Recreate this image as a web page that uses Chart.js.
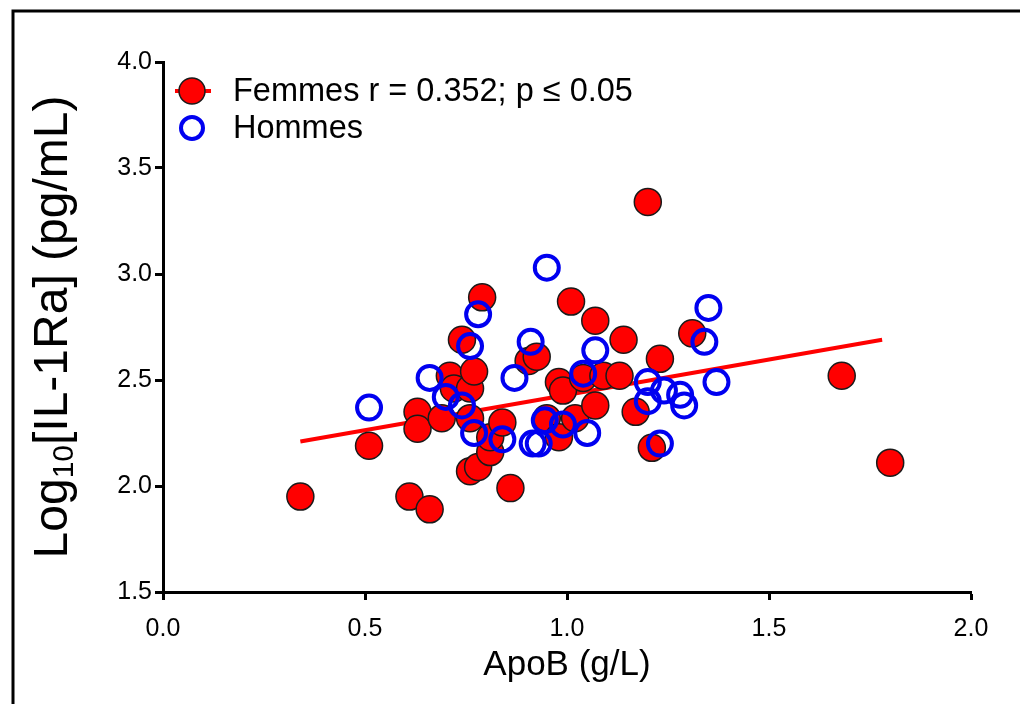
<!DOCTYPE html>
<html>
<head>
<meta charset="utf-8">
<script src="https://cdn.jsdelivr.net/npm/chart.js@4.4.1/dist/chart.umd.min.js"></script>
<style>
  html, body { margin: 0; padding: 0; background: #fff; }
  #wrap { width: 1020px; height: 704px; }
</style>
</head>
<body>
<div id="wrap"><canvas id="scatter"></canvas></div>
<script>
// Données
const femmesX = [0.34, 0.51, 0.61, 0.66, 0.63, 0.63, 0.69, 0.71, 0.72, 0.74,
                 0.76, 0.77, 0.76, 0.79, 0.76, 0.78, 0.81, 0.81, 0.84, 0.86,
                 0.905, 0.925, 0.95, 0.98, 0.98, 0.99, 1.01, 1.02, 1.04, 1.07,
                 1.07, 1.09, 1.13, 1.14, 1.17, 1.20, 1.21, 1.23, 1.31, 1.68,
                 1.80];
const femmesY = [1.95, 2.19, 1.95, 1.89, 2.35, 2.27, 2.32, 2.52, 2.46, 2.69,
                 2.46, 2.54, 2.32, 2.89, 2.07, 2.09, 2.16, 2.23, 2.30, 1.99,
                 2.59, 2.61, 2.32, 2.23, 2.49, 2.45, 2.87, 2.32, 2.51, 2.78,
                 2.38, 2.52, 2.52, 2.69, 2.35, 3.34, 2.18, 2.60, 2.72, 2.52,
                 2.11];
const hommesX = [0.51, 0.66, 0.70, 0.74, 0.76, 0.78, 0.77, 0.84, 0.87, 0.91,
                 0.915, 0.93, 0.95, 0.945, 0.99, 1.04, 1.05, 1.07, 1.20, 1.20,
                 1.24, 1.28, 1.29, 1.23, 1.34, 1.35, 1.37];
const hommesY = [2.37, 2.51, 2.42, 2.38, 2.66, 2.81, 2.25, 2.22, 2.51, 2.68,
                 2.20, 2.20, 3.03, 2.31, 2.29, 2.53, 2.25, 2.64, 2.49, 2.40,
                 2.45, 2.43, 2.38, 2.20, 2.68, 2.84, 2.49];
// droite de régression (femmes)
const fitX = [0.34, 1.78];
const fitY = [2.21, 2.69];

const xTicks = [0.0, 0.5, 1.0, 1.5, 2.0];
const yTicks = [1.5, 2.0, 2.5, 3.0, 3.5, 4.0];
const legendLabels = ['Femmes r = 0.352; p \u2264 0.05', 'Hommes'];

const FONT = '"Liberation Sans", Arial, sans-serif';
const RED = '#ff0000';
const BLUE = '#0000f0';

const toPoints = (xs, ys) => xs.map((x, i) => ({ x: x, y: ys[i] }));

// cadre, légende et titres des axes
const decorPlugin = {
    id: 'decor',
    beforeDraw(chart) {
        const ctx = chart.ctx;
        ctx.save();
        ctx.fillStyle = '#fff';
        ctx.fillRect(0, 0, chart.width, chart.height);
        ctx.strokeStyle = '#000';
        ctx.lineWidth = 3;
        ctx.beginPath();
        ctx.moveTo(13, chart.height);
        ctx.lineTo(13, 11);
        ctx.lineTo(chart.width, 11);
        ctx.stroke();
        ctx.restore();
    },
    afterDraw(chart) {
        const ctx = chart.ctx;
        const area = chart.chartArea;
        ctx.save();

        // légende
        const mx = area.left + 29;
        const y1 = area.top + 29;
        const y2 = area.top + 66;
        ctx.strokeStyle = RED;
        ctx.lineWidth = 4;
        ctx.beginPath();
        ctx.moveTo(mx - 17, y1);
        ctx.lineTo(mx + 19, y1);
        ctx.stroke();
        ctx.beginPath();
        ctx.arc(mx, y1, 13, 0, Math.PI * 2);
        ctx.fillStyle = RED;
        ctx.fill();
        ctx.lineWidth = 1.5;
        ctx.strokeStyle = '#1a1a1a';
        ctx.stroke();
        ctx.beginPath();
        ctx.arc(mx, y2, 11, 0, Math.PI * 2);
        ctx.lineWidth = 4;
        ctx.strokeStyle = BLUE;
        ctx.stroke();

        ctx.fillStyle = '#000';
        ctx.font = '32.5px ' + FONT;
        ctx.textAlign = 'left';
        ctx.textBaseline = 'middle';
        ctx.fillText(legendLabels[0], mx + 41, y1 + 1);
        ctx.fillText(legendLabels[1], mx + 41, y2 + 1);

        // titre axe x
        ctx.textAlign = 'center';
        ctx.font = '35px ' + FONT;
        ctx.fillText('ApoB (g/L)', (area.left + area.right) / 2, 665);

        // titre axe y avec indice
        const big = '48px ' + FONT;
        const small = '30px ' + FONT;
        const parts = [['Log', big, 0], ['10', small, 11], ['[IL-1Ra] (pg/mL)', big, 0]];
        let total = 0;
        parts.forEach(p => { ctx.font = p[1]; total += ctx.measureText(p[0]).width; });
        ctx.translate(54, (area.top + area.bottom) / 2);
        ctx.rotate(-Math.PI / 2);
        ctx.textAlign = 'left';
        let pos = -total / 2;
        parts.forEach(p => {
            ctx.font = p[1];
            ctx.fillText(p[0], pos, p[2]);
            pos += ctx.measureText(p[0]).width;
        });
        ctx.restore();
    }
};

const axisGrid = {
    display: true,
    drawOnChartArea: false,
    drawTicks: true,
    tickLength: 8,
    tickWidth: 3,
    tickColor: '#000'
};

new Chart(document.getElementById('scatter'), {
    type: 'scatter',
    data: {
        datasets: [{
            label: legendLabels[1],
            data: toPoints(hommesX, hommesY),
            pointRadius: 12,
            pointHoverRadius: 12,
            borderWidth: 4,
            borderColor: BLUE,
            backgroundColor: 'rgba(0,0,0,0)',
            order: 0
        }, {
            label: legendLabels[0],
            data: toPoints(femmesX, femmesY),
            pointRadius: 13.5,
            pointHoverRadius: 13.5,
            borderWidth: 1.5,
            borderColor: '#1a1a1a',
            backgroundColor: RED,
            order: 1
        }, {
            type: 'line',
            label: 'fit',
            data: toPoints(fitX, fitY),
            borderColor: RED,
            borderWidth: 4,
            pointRadius: 0,
            fill: false,
            order: 2
        }]
    },
    options: {
        responsive: true,
        maintainAspectRatio: false,
        animation: false,
        events: [],
        layout: { padding: { top: 62, right: 49, left: 0, bottom: 0 } },
        plugins: {
            legend: { display: false },
            tooltip: { enabled: false }
        },
        scales: {
            x: {
                type: 'linear',
                min: 0,
                max: 2,
                grid: axisGrid,
                border: { display: true, color: '#000', width: 3 },
                ticks: {
                    color: '#000',
                    font: { family: FONT, size: 25 },
                    padding: 14,
                    maxRotation: 0,
                    autoSkip: false,
                    callback: v => v.toFixed(1)
                },
                afterBuildTicks: s => { s.ticks = xTicks.map(v => ({ value: v })); },
                afterFit: s => { s.height = 112; }
            },
            y: {
                type: 'linear',
                min: 1.5,
                max: 4,
                grid: axisGrid,
                border: { display: true, color: '#000', width: 3 },
                ticks: {
                    color: '#000',
                    font: { family: FONT, size: 25 },
                    padding: 3,
                    autoSkip: false,
                    callback: v => v.toFixed(1)
                },
                afterBuildTicks: s => { s.ticks = yTicks.map(v => ({ value: v })); },
                afterFit: s => { s.width = 163; }
            }
        }
    },
    plugins: [decorPlugin]
});
</script>
</body>
</html>
